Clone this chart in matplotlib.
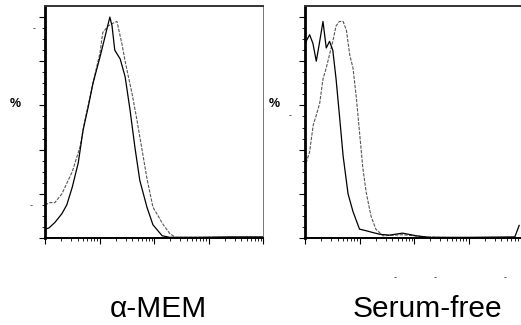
import matplotlib
matplotlib.use("Agg")
import matplotlib.pyplot as plt
import numpy as np
from matplotlib.ticker import FixedLocator, NullFormatter

# fluorescence channel positions in decades (0..4) and % of max
amem_solid_x = [0.0, 0.07, 0.18, 0.31, 0.40, 0.50, 0.61, 0.70, 0.79, 0.88, 1.01, 1.10,
                1.16, 1.19, 1.23, 1.28, 1.38, 1.47, 1.56, 1.65, 1.74, 1.87, 1.98, 2.15,
                2.29, 2.8, 3.4, 4.0]
amem_solid_y = [4, 4.5, 7, 11, 15, 23, 34, 49, 59, 70, 82, 91,
                97, 100, 96, 85, 81, 73, 58, 41, 26, 14, 6, 1,
                0.3, 0.3, 0.5, 0.5]
amem_dash_x = [0.0, 0.09, 0.18, 0.31, 0.50, 0.64, 0.73, 0.88, 1.01, 1.06, 1.16, 1.23,
               1.32, 1.41, 1.47, 1.60, 1.69, 1.78, 1.87, 1.98, 2.17, 2.29, 2.39, 3.0, 4.0]
amem_dash_y = [15, 16, 16, 20, 30, 41, 53, 70, 84, 93, 96, 97,
               98, 88, 80, 65, 53, 40, 27, 14, 6, 2, 0.3, 0.3, 0.3]

sf_solid_x = [0.02, 0.085, 0.146, 0.207, 0.27, 0.33, 0.39, 0.45, 0.51, 0.57, 0.63, 0.70,
              0.79, 0.88, 1.0, 1.12, 1.24, 1.37, 1.55, 1.79, 2.04, 2.28, 3.0, 3.85, 3.93]
sf_solid_y = [89, 92, 88, 80, 89, 98, 86, 89, 85, 72, 56, 37,
              20, 12, 4, 3.3, 2.5, 1.7, 1.3, 2.2, 1, 0.3, 0.3, 0.5, 5.7]
sf_dash_x = [0.02, 0.085, 0.15, 0.2, 0.27, 0.33, 0.39, 0.45, 0.51, 0.57, 0.63, 0.70,
             0.76, 0.82, 0.88, 0.94, 1.0, 1.06, 1.12, 1.21, 1.3, 1.43, 1.8, 2.2, 2.6]
sf_dash_y = [34, 39, 51, 55, 61, 72, 77, 83, 89, 96, 98, 98,
             94, 83, 77, 64, 48, 32, 21, 10, 4, 1, 1.5, 0.5, 0.2]

panels = [("α-MEM", amem_solid_x, amem_solid_y, amem_dash_x, amem_dash_y),
          ("Serum-free", sf_solid_x, sf_solid_y, sf_dash_x, sf_dash_y)]

W, H = 521, 325
fig = plt.figure(figsize=(W / 100, H / 100), dpi=100)
fig.patch.set_facecolor("white")

lefts = [45, 305]
label_x = [158, 427]
pct_x = [15, 274]
for i, (name, sx, sy, dx, dy) in enumerate(panels):
    ax = fig.add_axes([lefts[i] / W, (H - 238) / H, 218 / W, 232 / H])
    ax.set_xscale("log")
    ax.plot(10 ** np.array(dx), dy, color="#555555", lw=0.8, ls=(0, (3, 1.2)))
    ax.plot(10 ** np.array(sx), sy, color="black", lw=0.9)
    ax.set_xlim(1, 1e4)
    ax.set_ylim(0, 105)
    ax.yaxis.set_major_locator(FixedLocator([0, 20, 40, 60, 80, 100]))
    ax.yaxis.set_minor_locator(FixedLocator(np.arange(0, 105, 5)))
    ax.xaxis.set_major_formatter(NullFormatter())
    ax.xaxis.set_minor_formatter(NullFormatter())
    ax.set_yticklabels([])
    ax.tick_params(which="major", direction="out", length=4, width=0.8, color="black")
    ax.tick_params(which="minor", direction="out", length=2, width=0.6, color="black")
    ax.spines["left"].set_linewidth(2.0)
    ax.spines["bottom"].set_linewidth(1.4)
    ax.spines["top"].set_linewidth(1.4)
    ax.spines["top"].set_linestyle((0, (6, 1)))
    ax.spines["top"].set_color("#333333")
    ax.spines["right"].set_linewidth(0.7)
    ax.spines["right"].set_color("#777777")
    fig.text(pct_x[i] / W, 1 - 104 / H, "%", ha="center", va="center",
             fontsize=9, fontweight="bold", family="Liberation Sans")
    fig.text(label_x[i] / W, 8 / H, name, ha="center", va="baseline",
             fontsize=21.5, family="Liberation Sans")

# scan specks
for px, py in [(34, 29), (31, 206), (290, 116), (395, 278), (435, 278), (505, 278)]:
    fig.text(px / W, 1 - py / H, "-", ha="center", va="center", fontsize=6, color="#333333")

fig.savefig("out.png", dpi=100)
